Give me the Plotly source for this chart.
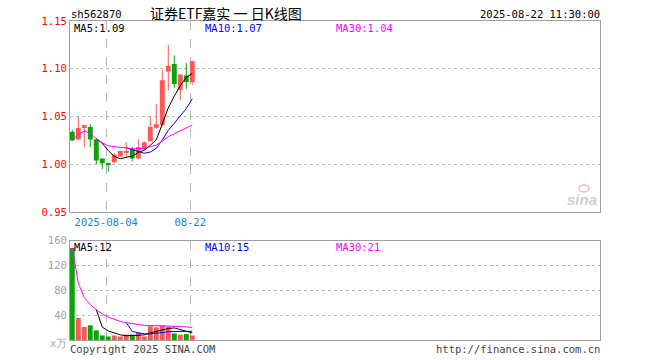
import plotly.graph_objects as go
import pandas as pd

# ---------------- data ----------------
dates = ["07-25", "07-28", "07-29", "07-30", "07-31", "08-01", "08-04", "08-05", "08-06", "08-07",
         "08-08", "08-11", "08-12", "08-13", "08-14", "08-15", "08-18", "08-19", "08-20", "08-21", "08-22"]
opens = [1.034, 1.026, 1.038, 1.039, 1.026, 1.006, 1.001, 1.002, 1.008, 1.012, 1.016,
         1.006, 1.016, 1.024, 1.038, 1.041, 1.097, 1.105, 1.078, 1.093, 1.086]
highs = [1.036, 1.050, 1.041, 1.042, 1.027, 1.006, 1.001, 1.012, 1.014, 1.023, 1.018,
         1.026, 1.024, 1.050, 1.063, 1.099, 1.125, 1.114, 1.094, 1.106, 1.108]
lows = [1.024, 1.025, 1.018, 1.018, 1.000, 0.995, 0.992, 1.001, 1.008, 1.008, 1.003,
        1.005, 1.015, 1.024, 1.037, 1.040, 1.077, 1.080, 1.067, 1.079, 1.083]
closes = [1.025, 1.038, 1.041, 1.026, 1.004, 1.001, 1.000, 1.010, 1.014, 1.013, 1.006,
          1.018, 1.023, 1.039, 1.042, 1.088, 1.103, 1.084, 1.094, 1.086, 1.108]
volumes = [148.0, 35.6, 20.9, 23.7, 15.5, 7.3, 5.7, 7.3, 5.7, 8.5, 8.5,
           12.2, 5.7, 22.0, 20.4, 23.2, 20.9, 10.6, 8.5, 9.5, 7.3]

tick_dates = ["08-04", "08-22"]
tick_texts = ["2025-08-04", "08-22"]
price_ticks = [0.95, 1.00, 1.05, 1.10, 1.15]
vol_ticks = [40, 80, 120, 160]

code_label = "sh562870"
title_label = "证券ETF嘉实 一 日K线图"
time_label = "2025-08-22 11:30:00"
price_ma_labels = ["MA5:1.09", "MA10:1.07", "MA30:1.04"]
vol_ma_labels = ["MA5:12", "MA10:15", "MA30:21"]
copyright_label = "Copyright 2025 SINA.COM"
url_label = "http://finance.sina.com.cn"
unit_label = "x万"

# ---------------- styles ----------------
W, H = 660, 360
UP = "#ff5757"
DOWN = "#0aa30a"
MA_COLORS = ["#000000", "#0000ff", "#ff00ff"]
FRAME = "#a0a0a0"
GRID = "#b8b8b8"
MONO = "DejaVu Sans Mono"


def px(x):
    return x / W


def py(y):
    return 1 - y / H


n = len(dates)
idx = list(range(n))
up = [c >= o for o, c in zip(opens, closes)]
colors = [UP if u else DOWN for u in up]

cs = pd.Series(closes)
vs = pd.Series(volumes)
price_mas = [cs.rolling(5).mean(), cs.rolling(10).mean(), cs.rolling(30, min_periods=1).mean()]
vol_mas = [vs.rolling(5).mean(), vs.rolling(10).mean(), vs.rolling(30, min_periods=1).mean()]

fig = go.Figure()

# wicks
for flag, col in [(True, UP), (False, DOWN)]:
    wx, wy = [], []
    for i in idx:
        if up[i] == flag:
            wx += [i, i, None]
            wy += [lows[i], highs[i], None]
    fig.add_trace(go.Scatter(x=wx, y=wy, mode="lines", line=dict(color=col, width=1),
                             xaxis="x", yaxis="y", hoverinfo="skip"))

# bodies
body_base = [min(o, c) for o, c in zip(opens, closes)]
body_h = [max(abs(c - o), 0.0009) for o, c in zip(opens, closes)]
fig.add_trace(go.Bar(x=idx, y=body_h, base=body_base, width=0.82, marker=dict(color=colors, line=dict(width=0)),
                     xaxis="x", yaxis="y", hoverinfo="skip"))

# price MAs
for s, col in zip(price_mas, MA_COLORS):
    fig.add_trace(go.Scatter(x=idx, y=s.tolist(), mode="lines", line=dict(color=col, width=1),
                             xaxis="x", yaxis="y", hoverinfo="skip", connectgaps=False))

# volume bars
fig.add_trace(go.Bar(x=idx, y=volumes, width=0.82, marker=dict(color=colors, line=dict(width=0)),
                     xaxis="x2", yaxis="y2", hoverinfo="skip"))
for s, col in zip(vol_mas, MA_COLORS):
    fig.add_trace(go.Scatter(x=idx, y=s.tolist(), mode="lines", line=dict(color=col, width=1),
                             xaxis="x2", yaxis="y2", hoverinfo="skip"))

xr = [-0.38, 87.95]
tick_pos = [dates.index(d) - 0.35 for d in tick_dates]
xdom = [px(70), px(600)]

common_x = dict(range=xr, domain=xdom, showline=True, mirror=True, linecolor=FRAME, linewidth=1.2,
                showgrid=True, gridcolor=GRID, griddash="dash", gridwidth=1.3,
                tickvals=tick_pos, zeroline=False, ticks="", fixedrange=True)

fig.update_layout(
    width=W, height=H, margin=dict(l=0, r=0, t=0, b=0, autoexpand=False),
    paper_bgcolor="white", plot_bgcolor="white", showlegend=False, barmode="overlay",
    xaxis=dict(**common_x, ticktext=tick_texts, anchor="y",
               tickfont=dict(family=MONO, size=10.5, color="#1f80d0")),
    xaxis2=dict(**common_x, ticktext=["", ""], showticklabels=False, anchor="y2"),
    yaxis=dict(range=[0.95, 1.15], domain=[py(212), py(21)], anchor="x",
               showline=True, mirror=True, linecolor=FRAME, linewidth=1.2,
               tickvals=price_ticks, ticktext=[f"{v:.2f}" for v in price_ticks],
               tickfont=dict(family=MONO, size=10.5, color="#ff0000"),
               showgrid=True, gridcolor=GRID, griddash="dot", gridwidth=1,
               zeroline=False, ticks="", fixedrange=True),
    yaxis2=dict(range=[0, 160], domain=[py(340), py(240.5)], anchor="x2",
                showline=True, mirror=True, linecolor=FRAME, linewidth=1.2,
                tickvals=vol_ticks, ticktext=[str(v) for v in vol_ticks],
                tickfont=dict(family=MONO, size=10.5, color="#a0a0a0"),
                showgrid=True, gridcolor=GRID, griddash="dot", gridwidth=1,
                zeroline=False, ticks="", fixedrange=True),
)

ann = []


def text(x, y, s, color="#000", size=10.5, xanchor="left", family=MONO, **kw):
    ann.append(dict(x=px(x), y=py(y), xref="paper", yref="paper", text=s, showarrow=False,
                    xanchor=xanchor, yanchor="middle", borderpad=0,
                    font=dict(family=family, size=size, color=color), **kw))


text(70, 14, code_label)
text(226, 13, title_label, size=14, xanchor="center", family="Noto Sans CJK SC")
text(601, 14, time_label, xanchor="right")
for lab, x, col in zip(price_ma_labels, [73, 204, 335], MA_COLORS):
    text(x, 28, lab, color=col)
for lab, x, col in zip(vol_ma_labels, [73, 204, 335], MA_COLORS):
    text(x, 246.5, lab, color=col)
text(69, 349, copyright_label, color="#444")
text(601, 349, url_label, color="#444", xanchor="right")
text(68, 343, unit_label, color="#aaaaaa", xanchor="right", size=10.5)
text(598, 199, "<i><b>sina</b></i>", color="#cfcfcf", xanchor="right", size=15, family="Liberation Sans")

fig.update_layout(annotations=ann)
fig.add_shape(type="circle", xref="paper", yref="paper", x0=px(579), x1=px(589), y0=py(192), y1=py(185),
              line=dict(color="#f4b8b8", width=1.5), fillcolor="rgba(0,0,0,0)")

fig.write_html("out.html", config={"displayModeBar": False},
               post_script="document.body.style.margin='0';document.body.style.padding='0';")
